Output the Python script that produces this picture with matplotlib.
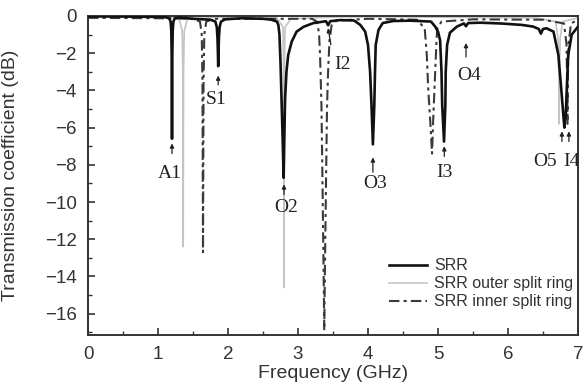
import matplotlib
matplotlib.use("Agg")
import matplotlib.pyplot as plt
from matplotlib.ticker import MultipleLocator

plt.rcParams['font.family'] = ['Liberation Sans', 'DejaVu Sans']
plt.rcParams['axes.unicode_minus'] = True

# ---------------- data ----------------
srr_f = [0.00, 0.50, 1.00, 1.10, 1.16, 1.18, 1.19, 1.197, 1.200, 1.203, 1.21, 1.22, 1.24, 1.30,
         1.50, 1.75, 1.82, 1.84, 1.85, 1.856, 1.860, 1.864, 1.87, 1.88, 1.90, 1.96,
         2.20, 2.50, 2.62, 2.70, 2.72, 2.735, 2.75, 2.765, 2.78, 2.795, 2.805, 2.815, 2.835,
         2.86, 2.91, 2.98, 3.08, 3.22, 3.40, 3.43, 3.46, 3.60, 3.80, 3.89, 3.96, 4.00, 4.03,
         4.05, 4.07, 4.09, 4.10, 4.11, 4.15, 4.21, 4.36, 4.60, 4.90, 4.96, 5.00, 5.03, 5.05,
         5.06, 5.086, 5.105, 5.11, 5.13, 5.17, 5.27, 5.37, 5.40, 5.43, 5.60, 5.89, 6.20,
         6.36, 6.44, 6.47, 6.50, 6.55, 6.65, 6.72, 6.76, 6.79, 6.805, 6.825, 6.84, 6.86,
         6.91, 7.00]
srr_db = [-0.02, -0.03, -0.05, -0.06, -0.12, -0.3, -0.8, -2.5, -6.6, -2.5, -0.8, -0.3, -0.12, -0.08,
          -0.15, -0.2, -0.3, -0.6, -1.2, -2.0, -2.7, -2.0, -1.2, -0.6, -0.3, -0.18,
          -0.12, -0.15, -0.2, -0.3, -0.5, -1.0, -2.5, -4.5, -6.5, -8.7, -6.5, -4.5, -3.0,
          -2.1, -1.38, -0.84, -0.58, -0.38, -0.28, -0.5, -0.28, -0.22, -0.24, -0.48, -0.84, -1.56, -3.0,
          -4.8, -6.9, -4.8, -3.0, -1.56, -0.75, -0.38, -0.27, -0.25, -0.3, -0.57, -0.84, -1.3, -3.0,
          -4.8, -6.75, -4.8, -3.0, -1.56, -0.9, -0.57, -0.4, -0.55, -0.38, -0.36, -0.4, -0.48,
          -0.57, -0.7, -0.95, -0.7, -0.66, -0.84, -2.1, -3.9, -5.3, -6.0, -5.3, -3.9, -2.1,
          -1.0, -0.57]

outer_f = [0.00, 1.00, 1.30, 1.345, 1.355, 1.36, 1.365, 1.375, 1.42, 2.00, 2.70, 2.785, 2.795,
           2.80, 2.805, 2.815, 2.90, 3.60, 4.50, 5.50, 6.40, 6.68, 6.715, 6.725, 6.73, 6.735,
           6.745, 6.78, 7.00]
outer_db = [-0.02, -0.03, -0.1, -0.8, -3.0, -12.4, -3.0, -0.8, -0.15, -0.05, -0.1, -0.6, -3.0,
            -14.6, -3.0, -0.6, -0.15, -0.05, -0.05, -0.08, -0.1, -0.3, -1.2, -3.0, -5.8, -3.0,
            -1.2, -0.3, -0.1]

inner_f = [0.00, 1.00, 1.50, 1.60, 1.625, 1.635, 1.643, 1.651, 1.661, 1.69, 1.80, 2.50, 3.20,
           3.27, 3.30, 3.315, 3.335, 3.35, 3.365, 3.375, 3.385, 3.40, 3.415, 3.43, 3.45, 3.48,
           3.55, 4.00, 4.70, 4.81, 4.84, 4.86, 4.89, 4.915, 4.93, 4.95, 4.97, 4.98, 4.99, 5.05,
           5.50, 6.50, 6.80, 6.835, 6.845, 6.85, 6.855, 6.865, 6.90, 7.00]
inner_db = [-0.1, -0.12, -0.15, -0.3, -1.0, -3.5, -12.7, -3.5, -1.0, -0.3, -0.15, -0.15, -0.15,
            -0.3, -0.9, -2.1, -4.8, -9.0, -13.5, -16.9, -13.5, -9.0, -4.8, -3.0, -1.3, -0.5,
            -0.25, -0.15, -0.2, -0.66, -2.1, -3.9, -5.7, -7.4, -5.7, -3.9, -2.1, -1.2, -0.66, -0.3,
            -0.18, -0.2, -0.4, -1.5, -3.5, -5.8, -3.5, -1.5, -0.4, -0.2]

series_labels = ["SRR", "SRR outer split ring", "SRR inner split ring"]

peak_names = ["A1", "S1", "O2", "I2", "O3", "I3", "O4", "O5", "I4"]
arrow_tip_f = [1.20, 1.86, 2.80, 3.43, 4.07, 5.09, 5.40, 6.77, 6.87]
arrow_tip_db = [-6.85, -3.2, -9.05, -0.65, -7.6, -7.0, -1.45, -6.2, -6.2]
arrow_tail_f = [1.20, 1.86, 2.80, 3.47, 4.07, 5.09, 5.40, 6.77, 6.87]
arrow_tail_db = [-7.4, -3.7, -9.6, -1.55, -8.4, -7.55, -2.2, -6.75, -6.75]
label_f = [1.17, 1.83, 2.83, 3.63, 4.10, 5.09, 5.44, 6.53, 6.90]
label_db = [-8.45, -4.5, -10.3, -2.6, -9.0, -8.4, -3.2, -7.8, -7.8]

x_ticks = [0, 1, 2, 3, 4, 5, 6, 7]
y_ticks = [0, -2, -4, -6, -8, -10, -12, -14, -16]

# ---------------- figure ----------------
fig = plt.figure(figsize=(5.84, 3.92), dpi=100)
ax = fig.add_axes([88/584, 1-335/392, (578-88)/584, (335-16)/392])

ax.plot(outer_f, outer_db, color='#c4c4c4', lw=1.2, label=series_labels[1], zorder=2)
ax.plot(inner_f, inner_db, color='#3a3a3a', lw=1.5, dashes=(5, 2, 1.5, 2),
        label=series_labels[2], zorder=3)
ax.plot(srr_f, srr_db, color='#111111', lw=1.9, label=series_labels[0], zorder=4)

for name, tf, tdb, sf, sdb, lf, ldb in zip(peak_names, arrow_tip_f, arrow_tip_db,
                                           arrow_tail_f, arrow_tail_db, label_f, label_db):
    ax.annotate('', xy=(tf, tdb), xytext=(sf, sdb),
                arrowprops=dict(arrowstyle='-|>', color='#222222', lw=0.9,
                                mutation_scale=6, shrinkA=0, shrinkB=0))
    ax.text(lf, ldb, name, ha='center', va='center', fontsize=14,
            family=['Liberation Serif', 'DejaVu Serif'], color='#222222', clip_on=False)

ax.set_xlim(0, 7)
ax.set_ylim(-17.15, 0)
ax.set_xticks(x_ticks)
ax.set_yticks(y_ticks)
ax.xaxis.set_minor_locator(MultipleLocator(0.5))
ax.yaxis.set_minor_locator(MultipleLocator(1))
ax.tick_params(which='both', direction='in', top=False, right=False,
               colors='#333333', labelcolor='#333333')
ax.tick_params(which='major', length=5, width=1.2, labelsize=13.5, pad=8)
ax.tick_params(which='minor', length=3, width=1.0)
for s in ax.spines.values():
    s.set_color('#333333')
    s.set_linewidth(1.4)

ax.set_xlabel('Frequency (GHz)', fontsize=14, color='#333333', labelpad=1)
ax.set_ylabel('Transmission coefficient (dB)', fontsize=14, color='#333333')
ax.yaxis.set_label_coords(-0.14, 0.5)

h, l = ax.get_legend_handles_labels()
order = [2, 0, 1]
ax.legend([h[i] for i in order], [l[i] for i in order], loc='lower left',
          bbox_to_anchor=(0.615, 0.08), frameon=False, fontsize=11.5,
          handlelength=2.35, handletextpad=0.45, labelspacing=0.2,
          borderpad=0, borderaxespad=0, labelcolor='#333333')

fig.savefig('out.png', dpi=100)
